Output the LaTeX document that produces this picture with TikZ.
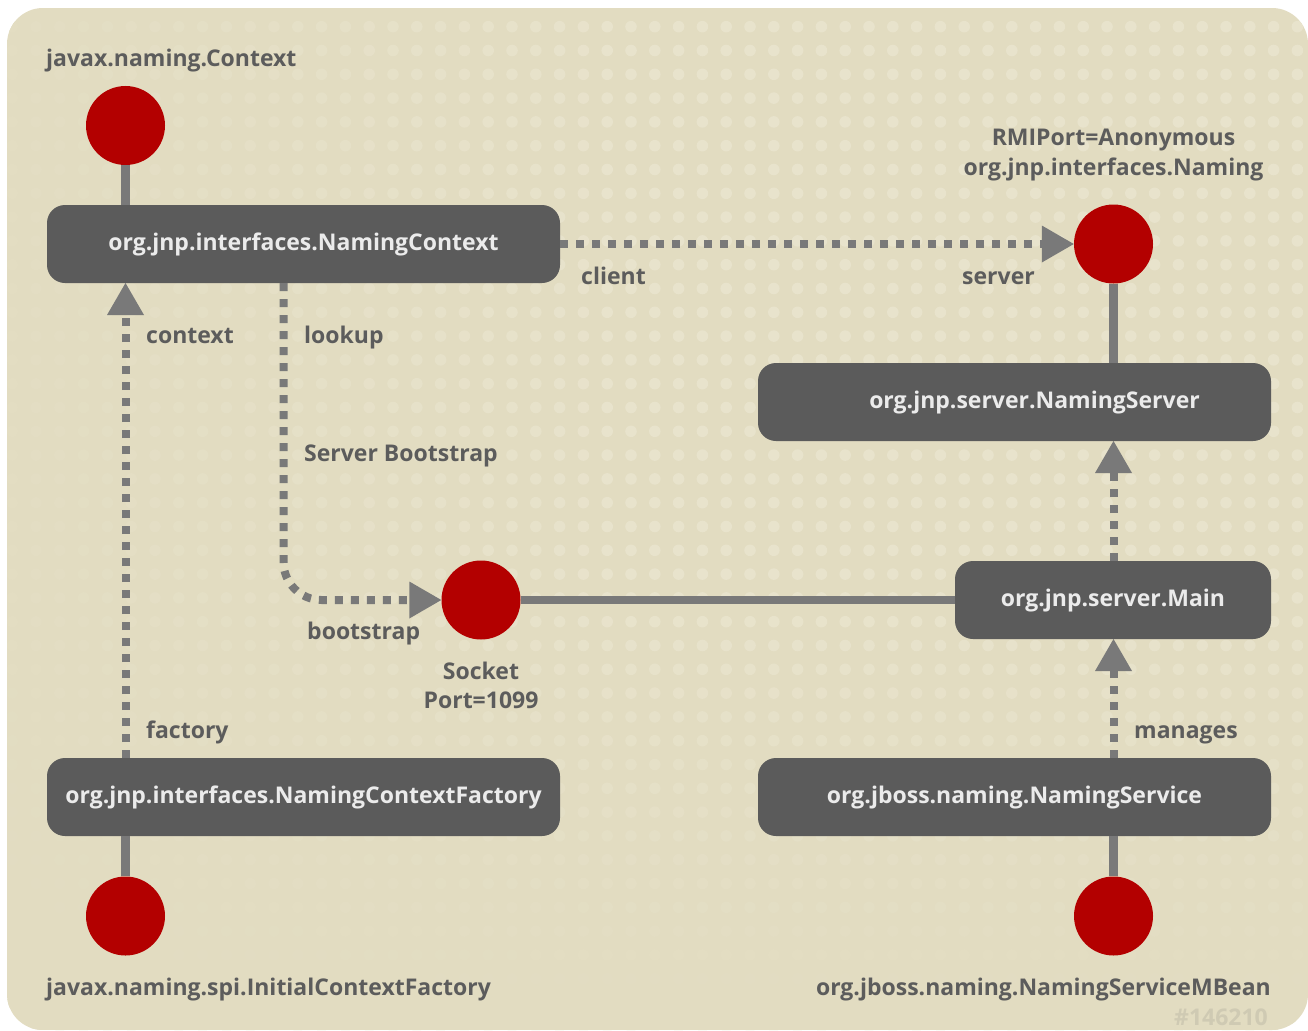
\documentclass[tikz,border=0pt]{standalone}
\usepackage{fontspec}
\setmainfont{Open Sans}
\usetikzlibrary{arrows.meta}
\definecolor{bgc}{HTML}{E2DCC1}
\definecolor{dotc}{HTML}{E8E3CC}
\definecolor{boxc}{HTML}{5B5B5B}
\definecolor{linec}{HTML}{797979}
\definecolor{redc}{HTML}{B30000}
\definecolor{txtc}{HTML}{5C5C5C}
\definecolor{stampc}{HTML}{CFCAB3}
\tikzset{
  x=1pt,y=-1pt,
  every node/.style={font=\bfseries\fontsize{23}{29}\selectfont},
  boxnode/.style={fill=boxc,rounded corners=18pt,text=white!92!black,inner sep=0pt,minimum height=78pt,text height=17pt,text depth=5pt},
  dotnode/.style={circle,fill=redc,minimum size=79pt,inner sep=0pt},
  lab/.style={text=txtc,inner sep=0pt,anchor=base west},
  labc/.style={text=txtc,inner sep=0pt,anchor=base,align=center},
  labr/.style={text=txtc,inner sep=0pt,anchor=base east},
  solidline/.style={draw=linec,line width=8.5pt},
  dotline/.style={draw=linec,line width=8pt,dash pattern=on 8pt off 8pt,-{Triangle[length=32pt,width=37pt,line width=0pt,fill=linec]}},
}
\begin{document}
\begin{tikzpicture}
\useasboundingbox (0,0) rectangle (1308,1030);
% background
\begin{scope}
\clip[rounded corners=36pt] (7,8) rectangle (1308,1030);
\fill[bgc] (7,8) rectangle (1308,1030);
\foreach \i in {0,...,54}{
  \foreach \j in {0,...,42}{
    \pgfmathsetmacro{\px}{12.2+\i*23.8}
    \pgfmathsetmacro{\py}{26.7+\j*23.8}
    \pgfmathsetmacro{\fx}{min(1,0.1+\px/700)}
    \pgfmathsetmacro{\fy}{max(0,min(1,(1000-\py)/400))}
    \pgfmathsetmacro{\op}{100*\fx*\fy}
    \fill[dotc!\op!bgc] (\px,\py) circle[radius=5.8pt];
  }
}
\end{scope}
% boxes
\node[boxnode,minimum width=513pt] (ctx) at (303.5,244) {org.jnp.interfaces.NamingContext};
\node[boxnode,minimum width=513pt] (srv) at (1014.5,402) {\hspace{40pt}org.jnp.server.NamingServer};
\node[boxnode,minimum width=316pt] (main) at (1113,600) {org.jnp.server.Main};
\node[boxnode,minimum width=513pt] (fac) at (303.5,797) {org.jnp.interfaces.NamingContextFactory};
\node[boxnode,minimum width=513pt] (svc) at (1014.5,797) {org.jboss.naming.NamingService};
% circles
\node[dotnode] (cctx) at (125.5,125.5) {};
\node[dotnode] (cnam) at (1113.5,244) {};
\node[dotnode] (csock) at (481,600) {};
\node[dotnode] (cfac) at (125.5,916) {};
\node[dotnode] (csvc) at (1113.5,916) {};
% connector anchors
\coordinate (ctxA) at (125.5,283);
\coordinate (ctxL) at (283.5,283);
\coordinate (facT) at (125.5,758);
\coordinate (srvB) at (1113.5,441);
\coordinate (srvC) at (1113.5,363);
\coordinate (mainT) at (1113.5,561);
\coordinate (mainB) at (1113.5,639);
\coordinate (svcT) at (1113.5,758);
\coordinate (svcB) at (1113.5,836);
\coordinate (facB) at (125.5,836);
\coordinate (ctxT) at (125.5,205);
% solid connectors
\draw[solidline] (cctx.south) -- (ctxT);
\draw[solidline] (cnam.south) -- (srvC);
\draw[solidline] (csock.east) -- (main.west);
\draw[solidline] (facB) -- (cfac.north);
\draw[solidline] (svcB) -- (csvc.north);
% dotted connectors
\draw[dotline] (ctx.east) -- (cnam.west);
\draw[dotline] (facT) -- (ctxA);
\draw[dotline,rounded corners=38pt] (ctxL) |- (csock.west);
\draw[dotline] (mainT) -- (srvB);
\draw[dotline] (svcT) -- (mainB);
% labels
\node[lab] (l1) at (46,67) {javax.naming.Context};
\node[labc] (l2) at (1113.5,146) {RMIPort=Anonymous};
\node[labc] (l3) at (1113.5,175) {org.jnp.interfaces.Naming};
\node[lab] (l4) at (581,284) {client};
\node[lab] (l5) at (962,284) {server};
\node[lab] (l6) at (146,343) {context};
\node[lab] (l7) at (304,343) {lookup};
\node[lab] (l8) at (304,461) {Server Bootstrap};
\node[lab] (l9) at (307,639) {bootstrap};
\node[labc] (l10) at (481,679) {Socket};
\node[labc] (l11) at (481,708) {Port=1099};
\node[lab] (l12) at (146,738) {factory};
\node[lab] (l13) at (1134,738) {manages};
\node[lab] (l14) at (46,995) {javax.naming.spi.InitialContextFactory};
\node[labr] (l15) at (1271,995) {org.jboss.naming.NamingServiceMBean};
\node[labr,text=stampc] (l16) at (1268,1025) {\#146210};
\end{tikzpicture}
\end{document}
